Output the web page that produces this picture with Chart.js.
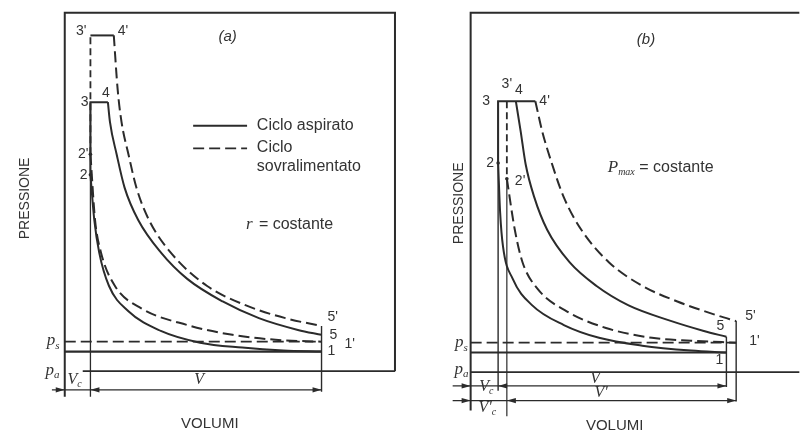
<!DOCTYPE html>
<html><head><meta charset="utf-8">
<script src="https://cdn.jsdelivr.net/npm/chart.js@4.4.1/dist/chart.umd.min.js"></script>
<style>
html,body{margin:0;padding:0;background:#fff;}
#wrap{position:relative;width:800px;height:438px;overflow:hidden;background:#fff;}
canvas{position:absolute;top:0;}
</style></head>
<body>
<div id="wrap">
<canvas id="ca" width="400" height="438" style="left:0"></canvas>
<canvas id="cb" width="400" height="438" style="left:400px"></canvas>
</div>
<script>
// ================= DATA =================
const seriesNames = ['Ciclo aspirato', 'Ciclo sovralimentato'];
const panelTitles = ['(a)', '(b)'];
const xTitle = 'VOLUMI';
const yTitle = 'PRESSIONE';
const pointNames = ['1', '2', '3', '4', '5', "1'", "2'", "3'", "4'", "5'"];

// ---- Panel (a): r = costante (volume in units of Vc, pressure arbitrary units)
const aPointV = [10.0, 1.0, 1.0, 1.68, 10.0, 10.0, 1.0, 1.0, 1.91, 10.0];
const aPointP = [2.0, 11.0, 14.7, 14.7, 2.85, 2.5, 12.05, 18.1, 18.1, 3.3];
const aLevels = { pa: 1.0, ps: 2.5, p1: 2.0 };
const aExpAsp = [[1.68,14.7],[1.76,13.7],[2.02,12.05],[2.33,10.35],[2.86,8.7],[3.74,7.05],[4.77,5.7],[6.15,4.55],[7.56,3.7],[9.08,3.1],[10.0,2.85]];
const aCompAsp = [[1.0,11.0],[1.15,8.7],[1.34,7.05],[1.72,5.35],[2.48,4.05],[3.74,3.05],[5.27,2.45],[6.91,2.2],[8.51,2.05],[10.0,2.0]];
const aExpSov = [[1.91,18.1],[2.06,15.35],[2.21,13.7],[2.48,12.05],[2.79,10.35],[3.28,8.7],[4.12,7.05],[5.53,5.35],[7.06,4.35],[8.59,3.7],[10.0,3.3]];
const aCompSov = [[1.0,12.05],[1.18,8.7],[1.41,7.05],[1.95,5.35],[2.98,4.2],[4.77,3.35],[6.53,2.85],[8.21,2.6],[10.0,2.5]];

// ---- Panel (b): pmax = costante
const bPointV = [9.96, 1.07, 1.07, 1.76, 9.96, 10.34, 1.41, 1.41, 2.52, 10.34];
const bPointP = [2.0, 11.65, 14.8, 14.8, 2.8, 2.5, 10.85, 14.8, 14.8, 3.6];
const bLevels = { pa: 1.0, ps: 2.5, p1: 2.0 };
const bExpAsp = [[1.76,14.8],[1.95,13.25],[2.14,11.6],[2.48,9.9],[2.98,8.25],[3.85,6.6],[4.89,5.4],[6.15,4.4],[7.82,3.6],[9.08,3.1],[9.96,2.8]];
const bCompAsp = [[1.07,11.65],[1.15,9.1],[1.26,7.4],[1.64,5.75],[2.40,4.4],[3.63,3.4],[5.0,2.75],[6.68,2.35],[8.59,2.1],[9.96,2.0]];
const bExpSov = [[2.52,14.8],[2.79,13.25],[3.17,11.6],[3.63,9.9],[4.31,8.25],[5.38,6.6],[6.68,5.4],[8.05,4.6],[9.58,3.9],[10.34,3.6]];
const bCompSov = [[1.41,10.85],[1.72,8.25],[2.02,6.6],[2.60,5.25],[3.74,4.1],[5.27,3.25],[7.06,2.75],[8.59,2.6],[10.34,2.5]];

// ================= LAYOUT / STYLE =================
const INK = '#2b2b2b';
const TXT = '#333333';
const DASH = [11, 5];
const SANS = '"Liberation Sans", Arial, sans-serif';
const SERIF = '"Liberation Serif", "Times New Roman", serif';

const LAYOUT = {
  a: {
    x: { min: -2.366, max: 12.9 }, y: { min: -2.2, max: 19.7 },
    frame: { right: 12.86, top: 19.25, leftBottom: -0.3, paStart: 0.7 },
    dims: [{ p: 0.05, from: -0.5 }],
    title: { v: 6.34, p: 18.05 },
    legend: { v0: 5.0, v1: 7.1, vt: 7.48, p1: 13.5, p2: 12.35 },
    note: { v: 7.06, p: 8.45 },
    xTitle: { v: 5.65, p: -1.7 }, yTitle: { v: -1.56, p: 9.8 },
    ps: { v: -0.2, p: 2.55 }, pa: { v: -0.2, p: 1.05 },
    dimLabels: [{ b: 'V', s: 'c', v: 0.38, p: 0.55 }, { b: 'V', s: '', v: 5.23, p: 0.55 }],
    ptOff: { '1': [6, 0, 'left'], '2': [-3, 0, 'right'], '3': [-2, 0, 'right'], '4': [-2, -9, 'center'], '5': [8, 0, 'left'],
             "1'": [23, 2, 'left'], "2'": [-2, 0, 'right'], "3'": [-4, -4, 'right'], "4'": [4, -4, 'left'], "5'": [6, -9, 'left'] }
  },
  b: {
    x: { min: -2.595, max: 12.67 }, y: { min: -2.15, max: 19.75 },
    frame: { right: 12.8, top: 19.3, leftBottom: -0.95, paStart: 0 },
    dims: [{ p: 0.3, from: -0.7 }, { p: -0.45, from: -0.7 }],
    title: { v: 6.83, p: 17.9 },
    note: { v: 5.34, p: 11.4 },
    xTitle: { v: 5.61, p: -1.75 }, yTitle: { v: -0.46, p: 9.6 },
    ps: { v: -0.11, p: 2.5 }, pa: { v: -0.08, p: 1.15 },
    dimLabels: [{ b: 'V', s: 'c', v: 0.61, p: 0.25 }, { b: "V'", s: 'c', v: 0.65, p: -0.8 },
                { b: 'V', s: '', v: 4.85, p: 0.65 }, { b: "V'", s: '', v: 5.08, p: -0.05 }],
    ptOff: { '1': [-7, 8, 'center'], '2': [-4, 0, 'right'], '3': [-8, 0, 'right'], '4': [3, -11, 'center'], '5': [-6, -11, 'center'],
             "1'": [13, -2, 'left'], "2'": [8, 2, 'left'], "3'": [0, -17, 'center'], "4'": [4, 0, 'left'], "5'": [9, -5, 'left'] }
  }
};

// ================= HELPERS =================
const pts = arr => arr.map(([x, y]) => ({ x, y }));
function ln(data, o) {
  return Object.assign({ data: pts(data), showLine: true, pointRadius: 0, borderColor: INK,
    backgroundColor: INK, borderWidth: 2, fill: false, tension: 0, clip: false }, o || {});
}
const curve = (data, dashed) => ln(data, { cubicInterpolationMode: 'monotone', borderWidth: 2, borderDash: dashed ? DASH : [] });
const idx = n => pointNames.indexOf(n);

function drawSub(ctx, base, sub, x, y, align, size) {
  ctx.font = 'italic ' + size + 'px ' + SERIF;
  const wb = ctx.measureText(base).width;
  ctx.font = 'italic ' + Math.round(size * 0.62) + 'px ' + SERIF;
  const ws = sub ? ctx.measureText(sub).width : 0;
  const w = wb + ws;
  let x0 = align === 'right' ? x - w : align === 'center' ? x - w / 2 : x;
  ctx.textAlign = 'left'; ctx.textBaseline = 'middle';
  ctx.font = 'italic ' + size + 'px ' + SERIF;
  ctx.fillText(base, x0, y);
  if (sub) { ctx.font = 'italic ' + Math.round(size * 0.62) + 'px ' + SERIF; ctx.fillText(sub, x0 + wb, y + size * 0.3); }
}

function arrow(ctx, x, y, dir) {
  ctx.beginPath();
  ctx.moveTo(x, y);
  ctx.lineTo(x - dir * 9, y - 2.6);
  ctx.lineTo(x - dir * 9, y + 2.6);
  ctx.closePath(); ctx.fill();
}

function textPlugin(key, PV, PP, note) {
  const L = LAYOUT[key];
  return {
    id: 'txt' + key,
    afterDatasetsDraw(chart) {
      const { ctx } = chart; const sx = chart.scales.x, sy = chart.scales.y;
      const X = v => sx.getPixelForValue(v), Y = p => sy.getPixelForValue(p);
      ctx.save();
      ctx.fillStyle = TXT; ctx.strokeStyle = INK;
      // point labels
      ctx.font = '14px ' + SANS; ctx.textBaseline = 'middle';
      pointNames.forEach((n, i) => {
        const o = L.ptOff[n];
        ctx.textAlign = o[2];
        ctx.fillText(n, X(PV[i]) + o[0], Y(PP[i]) + o[1]);
      });
      // panel title
      ctx.font = 'italic 15px ' + SANS; ctx.textAlign = 'center';
      ctx.fillText(panelTitles[key === 'a' ? 0 : 1], X(L.title.v), Y(L.title.p));
      // axis titles
      ctx.font = '15px ' + SANS; ctx.textAlign = 'center';
      ctx.fillText(xTitle, X(L.xTitle.v), Y(L.xTitle.p));
      ctx.save(); ctx.translate(X(L.yTitle.v), Y(L.yTitle.p)); ctx.rotate(-Math.PI / 2);
      ctx.font = '14px ' + SANS; ctx.fillText(yTitle, 0, 0); ctx.restore();
      // pressure labels
      drawSub(ctx, 'p', 's', X(L.ps.v), Y(L.ps.p), 'right', 17);
      drawSub(ctx, 'p', 'a', X(L.pa.v), Y(L.pa.p), 'right', 17);
      // dimension labels
      L.dimLabels.forEach(d => drawSub(ctx, d.b, d.s, X(d.v), Y(d.p), 'center', 16));
      // note
      const nx = X(L.note.v), ny = Y(L.note.p);
      if (key === 'a') {
        ctx.font = 'italic 17px ' + SERIF; ctx.textAlign = 'left';
        ctx.fillText('r', nx, ny);
        const w = ctx.measureText('r ').width;
        ctx.font = '16px ' + SANS; ctx.fillText('= costante', nx + w + 2, ny);
      } else {
        ctx.font = 'italic 17px ' + SERIF; ctx.textAlign = 'left';
        ctx.fillText('P', nx, ny);
        const w = ctx.measureText('P').width;
        ctx.font = 'italic 10px ' + SERIF; ctx.fillText('max', nx + w, ny + 4);
        const w2 = ctx.measureText('max ').width;
        ctx.font = '16px ' + SANS; ctx.fillText('= costante', nx + w + w2 + 2, ny);
      }
      // legend (panel a)
      if (L.legend) {
        const lg = L.legend;
        ctx.lineWidth = 1.8;
        ctx.beginPath(); ctx.moveTo(X(lg.v0), Y(lg.p1)); ctx.lineTo(X(lg.v1), Y(lg.p1)); ctx.stroke();
        ctx.setLineDash(DASH);
        ctx.beginPath(); ctx.moveTo(X(lg.v0), Y(lg.p2)); ctx.lineTo(X(lg.v1), Y(lg.p2)); ctx.stroke();
        ctx.setLineDash([]);
        ctx.font = '16px ' + SANS; ctx.textAlign = 'left';
        ctx.fillText(seriesNames[0], X(lg.vt), Y(lg.p1));
        const parts = seriesNames[1].split(' ');
        ctx.fillText(parts[0], X(lg.vt), Y(lg.p2) - 1);
        ctx.fillText(parts[1], X(lg.vt), Y(lg.p2) + 18);
      }
      // dimension arrows
      ctx.fillStyle = INK;
      L.dims.forEach((d, k) => {
        const yv = Y(d.p);
        const vEnd = key === 'a' ? PV[idx('1')] : (k === 0 ? PV[idx('1')] : PV[idx("1'")]);
        const vC = key === 'a' ? PV[idx('2')] : (k === 0 ? PV[idx('2')] : PV[idx("2'")]);
        arrow(ctx, X(0), yv, 1);
        arrow(ctx, X(vC), yv, -1);
        arrow(ctx, X(vEnd), yv, 1);
      });
      ctx.restore();
    }
  };
}

function buildPanel(canvasId, key, PV, PP, lev, expAsp, compAsp, expSov, compSov) {
  const L = LAYOUT[key];
  const P = n => [PV[idx(n)], PP[idx(n)]];
  const F = L.frame;
  const ds = [];
  // frame
  if (key === 'a') {
    ds.push(ln([[0, F.leftBottom], [0, F.top], [F.right, F.top], [F.right, lev.pa]], { borderWidth: 2 }));
  } else {
    ds.push(ln([[0, F.leftBottom], [0, F.top], [F.right, F.top]], { borderWidth: 2 }));
  }
  // atmospheric pressure line
  ds.push(ln([[F.paStart, lev.pa], [F.right, lev.pa]], { borderWidth: 1.8 }));
  // intake lines
  ds.push(ln([[0, lev.p1], P('1')], { borderWidth: 2.2 }));
  ds.push(ln([[0, lev.ps], P("1'")], { borderWidth: 1.8, borderDash: DASH }));
  // dimension lines
  L.dims.forEach((d, k) => {
    const end = key === 'a' ? P('1')[0] : (k === 0 ? P('1')[0] : P("1'")[0]);
    ds.push(ln([[d.from, d.p], [end, d.p]], { borderWidth: 1.2 }));
  });
  if (key === 'a') {
    ds.push(ln([P('3'), [P('3')[0], -0.3]], { borderWidth: 1.3 }));             // Vc line
    ds.push(ln([P("2'"), P("3'")], { borderWidth: 1.8, borderDash: [7, 4] }));   // 2'-3'
    ds.push(ln([P('2'), P('3'), P('4')], { borderWidth: 2 }));
    ds.push(ln([P("3'"), P("4'")], { borderWidth: 2 }));
    ds.push(ln([P("5'"), [P('1')[0], -0.05]], { borderWidth: 1.4 }));           // right vertical
  } else {
    ds.push(ln([P('3'), [P('3')[0], 0.05]], { borderWidth: 1.4 }));              // Vc line
    ds.push(ln([P("3'"), P("2'")], { borderWidth: 1.8, borderDash: [7, 4] }));
    ds.push(ln([P("2'"), [P("2'")[0], -1.25]], { borderWidth: 1.2 }));           // V'c line
    ds.push(ln([P('2'), P('3'), P("4'")], { borderWidth: 2 }));
    ds.push(ln([P('5'), [P('5')[0], 0.25]], { borderWidth: 1.4 }));
    ds.push(ln([P("5'"), [P("5'")[0], -0.5]], { borderWidth: 1.4 }));
  }
  // cycle curves
  ds.push(curve(compAsp, false));
  ds.push(curve(expAsp, false));
  ds.push(curve(compSov, true));
  ds.push(curve(expSov, true));
  // small dots at points 2 and 2'
  ds.push({ data: pts([P('2'), P("2'")]), showLine: false, pointRadius: 1.8, pointBackgroundColor: INK, pointBorderWidth: 0, clip: false });

  return new Chart(document.getElementById(canvasId), {
    type: 'scatter',
    data: { datasets: ds },
    options: {
      responsive: false, animation: false, devicePixelRatio: 1,
      layout: { padding: 0 },
      plugins: { legend: { display: false }, tooltip: { enabled: false } },
      scales: {
        x: { type: 'linear', min: L.x.min, max: L.x.max, display: false },
        y: { type: 'linear', min: L.y.min, max: L.y.max, display: false }
      }
    },
    plugins: [textPlugin(key, PV, PP)]
  });
}

buildPanel('ca', 'a', aPointV, aPointP, aLevels, aExpAsp, aCompAsp, aExpSov, aCompSov);
buildPanel('cb', 'b', bPointV, bPointP, bLevels, bExpAsp, bCompAsp, bExpSov, bCompSov);
</script>
</body></html>
